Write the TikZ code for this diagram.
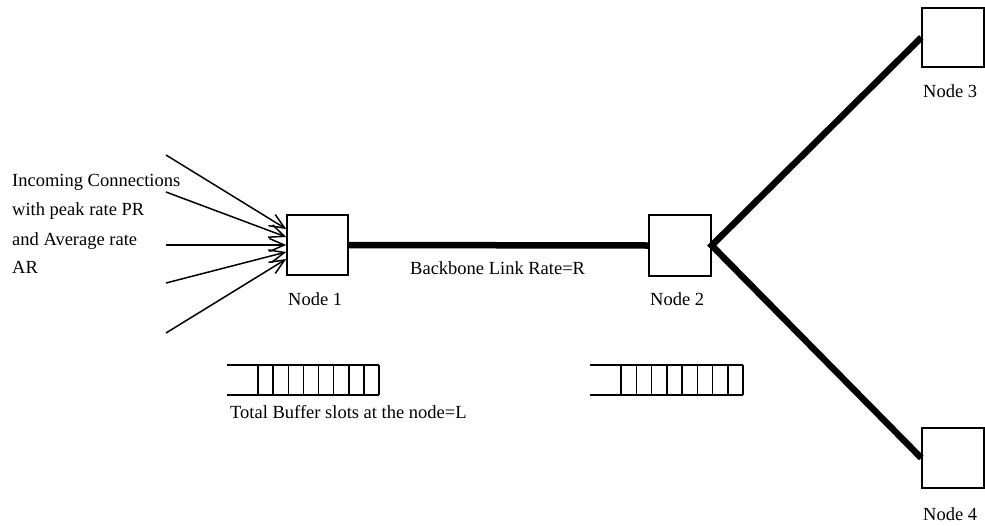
\documentclass[tikz,border=0pt]{standalone}
\usepackage{fontspec}
\setmainfont{Liberation Serif}
\usetikzlibrary{arrows.meta,calc}
\begin{document}
\begin{tikzpicture}[x=1pt,y=-1pt,
  lbl/.style={font=\fontsize{18.5}{22}\selectfont, inner sep=0pt, anchor=base west},
  box/.style={draw, line width=1.5pt, minimum width=61pt, minimum height=60pt, inner sep=0pt},
  backbone/.style={line width=6.5pt},
  inarrow/.style={line width=1.5pt, -{Straight Barb[length=15pt,width=13pt]}},
  buf/.style={line width=1.5pt}]
\useasboundingbox (0,0) rectangle (985,525);
% nodes
\node[box] (n1) at (317.5,245) {};
\node[box, minimum width=62pt, minimum height=61pt] (n2) at (680,245.5) {};
\node[box, minimum width=62pt, minimum height=59pt] (n3) at (953,37.5) {};
\node[box, minimum width=62pt] (n4) at (953,458) {};
% node labels
\node[lbl] (l1) at (288,305) {Node 1};
\node[lbl] (l2) at (650,305) {Node 2};
\node[lbl] (l3) at (923,97) {Node 3};
\node[lbl] (l4) at (923,520) {Node 4};
% backbone
\draw[backbone] (n1.east) -- (n2.west);
\draw[backbone, line join=miter] (n3.west) -- (n2.east) -- (n4.west);
\node[lbl] (bl) at (410,274) {Backbone Link Rate=R};
% incoming connections
\node[lbl] (t1) at (12,186) {Incoming Connections};
\node[lbl] (t2) at (12,215) {with peak rate PR};
\node[lbl] (t3) at (12,245) {and Average rate};
\node[lbl] (t4) at (12,273) {AR};
\coordinate (s1) at (166,155);
\coordinate (s2) at (166,192);
\coordinate (s3) at (166,245);
\coordinate (s4) at (166,283);
\coordinate (s5) at (166,333);
\draw[inarrow] (s1) -- ($(n1.west)+(0,-16)$);
\draw[inarrow] (s2) -- ($(n1.west)+(0,-8)$);
\draw[inarrow] (s3) -- (n1.west);
\draw[inarrow] (s4) -- ($(n1.west)+(0,7)$);
\draw[inarrow] (s5) -- ($(n1.west)+(0,14)$);
% buffers
\draw[buf] (227,365) -- (379,365) (227,395) -- (379,395);
\foreach \i in {0,...,8} \draw[buf] ({258+\i*15.125},365) -- ({258+\i*15.125},395);
\draw[buf] (590,365) -- (743,365) (590,395) -- (743,395);
\foreach \i in {0,...,8} \draw[buf] ({621+\i*15.25},365) -- ({621+\i*15.25},395);
\node[lbl] (bt) at (230,418) {Total Buffer slots at the node=L};
\end{tikzpicture}
\end{document}
